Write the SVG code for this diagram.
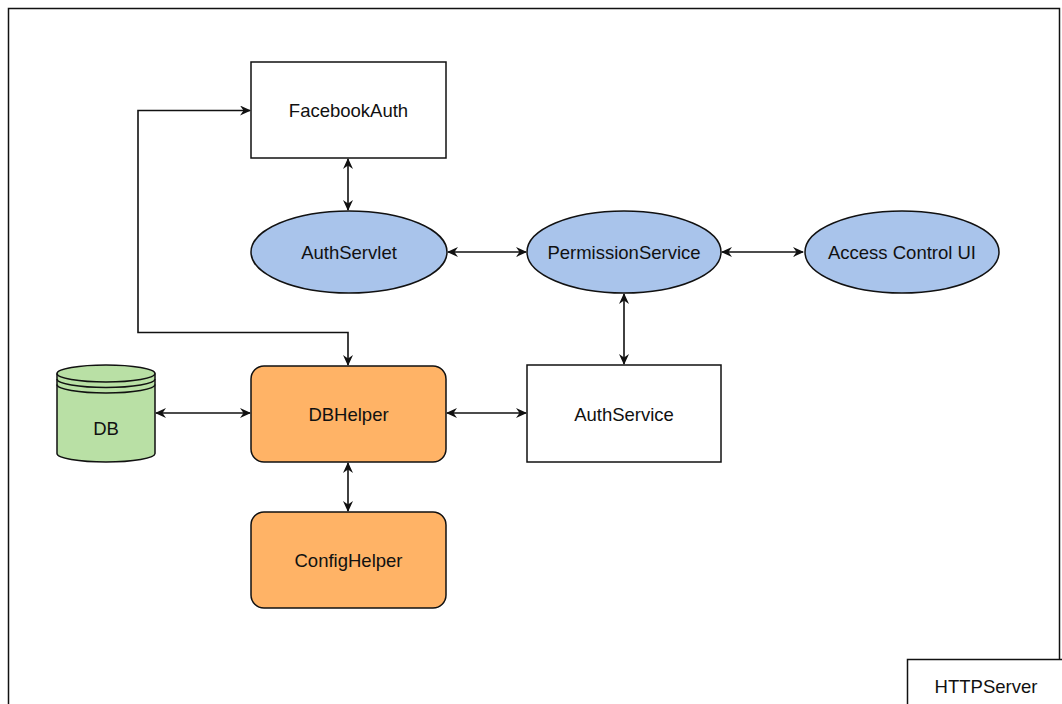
<svg xmlns="http://www.w3.org/2000/svg" width="1062" height="704" viewBox="0 0 1062 704">
<style>
.t{font-family:"Liberation Sans",Arial,sans-serif;font-size:18.5px;fill:#111;text-anchor:middle}
.box{fill:#fff;stroke:#111;stroke-width:1.5}
.ell{fill:#a9c4eb;stroke:#111;stroke-width:1.5}
.org{fill:#ffb366;stroke:#111;stroke-width:1.5}
.db{fill:#b9e0a5;stroke:#111;stroke-width:1.5}
.c{fill:none;stroke:#111;stroke-width:1.6;marker-end:url(#ah);marker-start:url(#ahs)}
</style>
<defs>
<marker id="ah" viewBox="0 0 11 10" refX="10" refY="5" markerWidth="11" markerHeight="10" markerUnits="userSpaceOnUse" orient="auto">
<path d="M0,0 L11,5 L0,10 L3.5,5 Z" fill="#111"/>
</marker>
<marker id="ahs" viewBox="0 0 11 10" refX="1" refY="5" markerWidth="11" markerHeight="10" markerUnits="userSpaceOnUse" orient="auto">
<path d="M11,0 L0,5 L11,10 L7.5,5 Z" fill="#111"/>
</marker>
</defs>
<rect width="1062" height="704" fill="#fff"/>
<rect id="frame" x="8.5" y="8.5" width="1051" height="720" fill="none" stroke="#111" stroke-width="1.5"/>
<g id="connectors">
<path class="c" d="M348,159 L348,210"/>
<path class="c" d="M448,252 L526,252"/>
<path class="c" d="M722,252 L803,252"/>
<path class="c" d="M624,294 L624,364"/>
<path class="c" d="M156,413 L250,413"/>
<path class="c" d="M447,413 L526,413"/>
<path class="c" d="M348,463 L348,511"/>
<path class="c" d="M348,365 L348,332.5 L138,332.5 L138,110.5 L250,110.5"/>
</g>
<g id="facebookauth">
<rect class="box" x="251" y="62" width="195" height="96"/>
<text class="t" x="348.5" y="116.6">FacebookAuth</text>
</g>
<g id="authservlet">
<ellipse class="ell" cx="349" cy="252" rx="98" ry="41"/>
<text class="t" x="349" y="258.6">AuthServlet</text>
</g>
<g id="permissionservice">
<ellipse class="ell" cx="624" cy="252" rx="97" ry="41"/>
<text class="t" x="624" y="258.6">PermissionService</text>
</g>
<g id="accesscontrolui">
<ellipse class="ell" cx="902" cy="252" rx="97" ry="41"/>
<text class="t" x="902" y="258.6">Access Control UI</text>
</g>
<g id="db">
<path class="db" d="M57,373.5 L57,453.5 A49,8.5 0 0 0 155,453.5 L155,373.5 A49,8.5 0 0 0 57,373.5 Z"/>
<path fill="none" stroke="#111" stroke-width="1.5" d="M57,373.5 A49,8.5 0 0 0 155,373.5 M57,379 A49,8.5 0 0 0 155,379 M57,384.5 A49,8.5 0 0 0 155,384.5"/>
<text class="t" x="106" y="435">DB</text>
</g>
<g id="dbhelper">
<rect class="org" x="251" y="366" width="195" height="96" rx="13" ry="13"/>
<text class="t" x="348.5" y="420.6">DBHelper</text>
</g>
<g id="authservice">
<rect class="box" x="527" y="365" width="194" height="97"/>
<text class="t" x="624" y="420.6">AuthService</text>
</g>
<g id="confighelper">
<rect class="org" x="251" y="512" width="195" height="96" rx="13" ry="13"/>
<text class="t" x="348.5" y="566.6">ConfigHelper</text>
</g>
<g id="httpserver">
<rect class="box" x="907.5" y="659.5" width="160" height="60"/>
<text class="t" x="986" y="692.6">HTTPServer</text>
</g>
</svg>
